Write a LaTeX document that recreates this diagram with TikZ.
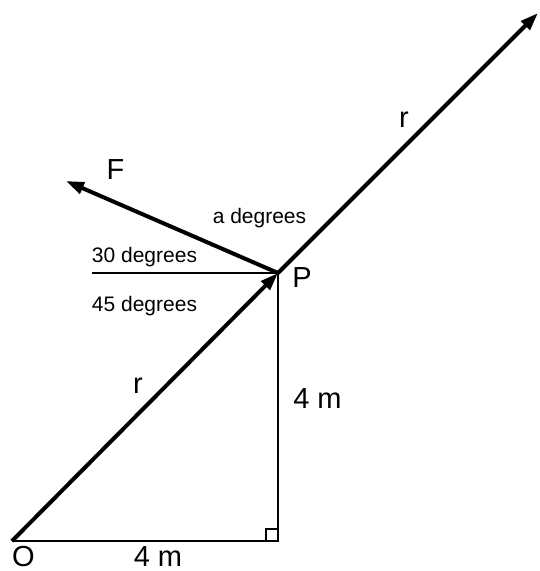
\documentclass[tikz,border=0pt]{standalone}
\usepackage{fontspec}
\setmainfont{Liberation Sans}
\usetikzlibrary{arrows.meta}
\begin{document}
\begin{tikzpicture}[x=1pt,y=-1pt,
  vec/.style={line width=4pt,-{Triangle[length=18pt,width=12pt]}},
  thin/.style={line width=2pt},
  big/.style={inner sep=0pt,anchor=base,font=\fontsize{29}{30}\selectfont},
  small/.style={inner sep=0pt,anchor=base,font=\fontsize{21}{22}\selectfont}]
\useasboundingbox (0,0) rectangle (540,571);
\coordinate (O) at (12,541);
\coordinate (C) at (278,541);
\coordinate (P) at (278,273);
\coordinate (T) at (538,13);
\coordinate (Ft) at (66,181);
\coordinate (H) at (92,273);
% thin lines
\draw[thin] (O) -- (C) -- (P) -- (H);
\draw[line width=1.2pt] ([xshift=-12pt]C) -- ++(0,-12) -- ++(12,0);
% vectors
\draw[vec] (O) -- (P);
\draw[vec] (P) -- (T);
\draw[vec] (P) -- (Ft);
% labels
\node[big] (lO) at (23.5,566) {O};
\node[big] (lb) at (158,566) {4 m};
\node[big] (lr) at (317.5,408) {4 m};
\node[big] (r1) at (138,393) {r};
\node[big] (r2) at (404,127) {r};
\node[big] (lP) at (302,287) {P};
\node[big] (lF) at (115.5,179) {F};
\node[small] (la) at (259.5,223) {a degrees};
\node[small] (l30) at (144.5,262) {30 degrees};
\node[small] (l45) at (144.5,311) {45 degrees};
\end{tikzpicture}
\end{document}
